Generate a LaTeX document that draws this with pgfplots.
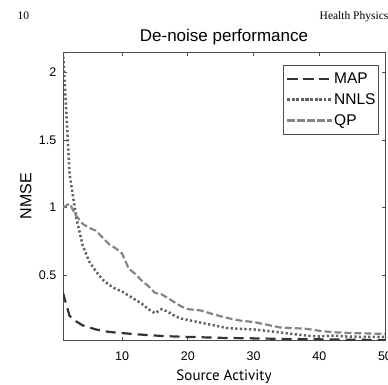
\documentclass[border=0pt]{standalone}
\usepackage{pgfplots}
\pgfplotsset{compat=1.18}
\usepackage{fontspec}
\setmainfont{Liberation Sans}
\newfontfamily\seriffont{Liberation Serif}
\newfontfamily\ptsans{PT Sans}

\pgfplotstableread{
x y
1 0.37
2 0.20
3 0.16
4 0.13
5 0.115
6 0.100
7 0.090
8 0.082
9 0.077
10 0.073
12 0.065
14 0.058
16 0.052
18 0.048
20 0.045
25 0.038
30 0.034
35 0.030
40 0.027
45 0.024
50 0.022
}\mapdata

\pgfplotstableread{
x y
1 2.15
2 1.25
3 0.93
4 0.72
5 0.60
6 0.53
7 0.47
8 0.43
9 0.40
10 0.38
11 0.35
12 0.32
13 0.29
14 0.25
15 0.22
16 0.25
17 0.23
18 0.20
19 0.18
20 0.17
21 0.16
22 0.15
24 0.13
26 0.11
28 0.105
30 0.10
32 0.09
34 0.078
36 0.066
38 0.055
40 0.048
42 0.055
44 0.048
46 0.046
48 0.045
50 0.045
}\nnlsdata

\pgfplotstableread{
x y
1 1.00
2 1.03
3 0.94
4 0.88
5 0.85
6 0.83
7 0.78
8 0.73
9 0.70
10 0.66
11 0.55
12 0.51
13 0.46
14 0.42
15 0.37
16 0.36
17 0.33
18 0.30
19 0.27
20 0.25
21 0.245
22 0.24
23 0.225
24 0.21
26 0.185
28 0.165
30 0.155
32 0.135
34 0.115
36 0.11
38 0.105
40 0.09
42 0.08
44 0.075
46 0.072
48 0.07
50 0.066
}\qpdata

\begin{document}
\begin{tikzpicture}[x=1pt,y=1pt]
\node[anchor=base west,inner sep=0,font=\seriffont\fontsize{11.5}{13}\selectfont] at (17.5,365) {10};
\node[anchor=base west,inner sep=0,font=\seriffont\fontsize{11.5}{13}\selectfont] at (319.5,365) {Health Physics};
\begin{axis}[
  at={(63pt,44pt)}, anchor=south west,
  scale only axis, width=322pt, height=288pt,
  xmin=1, xmax=50, ymin=0.022, ymax=2.15,
  xtick={10,20,30,40,50}, ytick={0.5,1,1.5,2},
  yticklabels={0.5,1,1.5,2},
  tick align=inside, major tick length=3.5pt,
  axis line style={black!70, line width=0.8pt},
  every tick/.style={black!70, line width=0.8pt},
  /pgf/number format/assume math mode=true,
  tick label style={font=\fontsize{12.5}{14}\selectfont, inner sep=0pt},
  xticklabel style={anchor=center, yshift=-16pt},
  yticklabel style={anchor=east, xshift=-6.5pt},
  title={De-noise performance},
  title style={at={(axis description cs:0.5,1)}, anchor=base, yshift=5pt, inner sep=0pt, font=\fontsize{17}{19}\selectfont},
  xlabel={Source Activity},
  xlabel style={at={(axis description cs:0.5,0)}, anchor=center, yshift=-37pt, inner sep=0pt, font=\ptsans\fontsize{15}{17}\selectfont},
  ylabel={NMSE},
  every axis y label/.style={at={(axis description cs:-0.115,0.5)}, anchor=center, rotate=90, inner sep=0pt, font=\fontsize{16}{18}\selectfont},
  legend style={at={(rel axis cs:0.981,0.955)}, anchor=north east, draw=black!70, line width=0.6pt,
    font=\fontsize{15.5}{17}\selectfont, inner xsep=2pt, inner ysep=6.5pt, row sep=6.5pt,
    nodes={inner sep=1pt}},
  legend cell align=left,
  legend image code/.code={\path (-1pt,0pt) -- (44pt,0pt); \draw[#1] (0pt,0pt) -- (37pt,0pt);},
]
\addplot[black!80, line width=2.2pt, dash pattern=on 10pt off 6pt] table[x=x,y=y] {\mapdata};
\addlegendentry{MAP}
\addplot[black!62, line width=2.5pt, dash pattern=on 2.2pt off 2.4pt] table[x=x,y=y] {\nnlsdata};
\addlegendentry{NNLS}
\addplot[black!48, line width=2.2pt, dash pattern=on 7pt off 3pt] table[x=x,y=y] {\qpdata};
\addlegendentry{QP}
\end{axis}
\pgfresetboundingbox
\path[use as bounding box] (0,0) rectangle (388,384);
\end{tikzpicture}
\end{document}
